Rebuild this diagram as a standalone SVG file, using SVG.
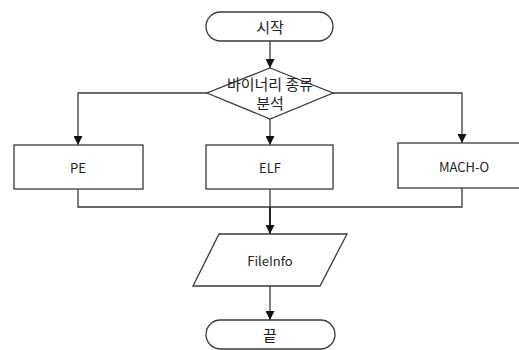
<svg xmlns="http://www.w3.org/2000/svg" width="519" height="350" viewBox="0 0 519 350">
<style>
.s{fill:#fff;stroke:#3a3a3a;stroke-width:1.3}
.c{fill:none;stroke:#3a3a3a;stroke-width:1.3}
.t{font-family:"Noto Sans CJK KR","Noto Sans",sans-serif;font-size:13px;fill:#222;text-anchor:middle;dominant-baseline:central}
.k{font-size:15px}
</style>
<defs>
<marker id="a" viewBox="0 0 10 10" refX="10" refY="5" markerWidth="9" markerHeight="9" markerUnits="userSpaceOnUse" orient="auto">
<path d="M0,0L10,5L0,10z" fill="#111"/>
</marker>
</defs>
<g id="connectors">
<path class="c" d="M270,41V68" marker-end="url(#a)"/>
<path class="c" d="M207,93H78V145" marker-end="url(#a)"/>
<path class="c" d="M333,93H462V143" marker-end="url(#a)"/>
<path class="c" d="M270,108V145" marker-end="url(#a)"/>
<path class="c" d="M78,189V207H462V188"/>
<path class="c" d="M270,189V207"/>
<path class="c" style="stroke-width:2;stroke:#222" d="M270,207V234" marker-end="url(#a)"/>
<path class="c" d="M270,286V320" marker-end="url(#a)"/>
</g>
<g id="start">
<rect class="s" x="206" y="12" width="127" height="29" rx="14.5"/>
<text class="t k" x="270" y="26">시작</text>
</g>
<g id="decision">
<path class="s" d="M270,68L333,93L270,119L207,93z"/>
<text class="t k" x="270" y="83">바이너리 종류</text>
<text class="t k" x="270" y="102">분석</text>
</g>
<g id="pe">
<rect class="s" x="14" y="145" width="129" height="44"/>
<text class="t" x="78" y="167">PE</text>
</g>
<g id="elf">
<rect class="s" x="206" y="145" width="127" height="44"/>
<text class="t" x="270" y="167">ELF</text>
</g>
<g id="macho">
<rect class="s" x="398" y="143" width="130" height="45"/>
<text class="t" x="464" y="166">MACH-O</text>
</g>
<g id="fileinfo">
<path class="s" d="M219,234H347L320,286H193z"/>
<text class="t" x="270" y="260">FileInfo</text>
</g>
<g id="end">
<rect class="s" x="206" y="320" width="129" height="29" rx="14.5"/>
<text class="t k" x="270" y="334">끝</text>
</g>
</svg>
